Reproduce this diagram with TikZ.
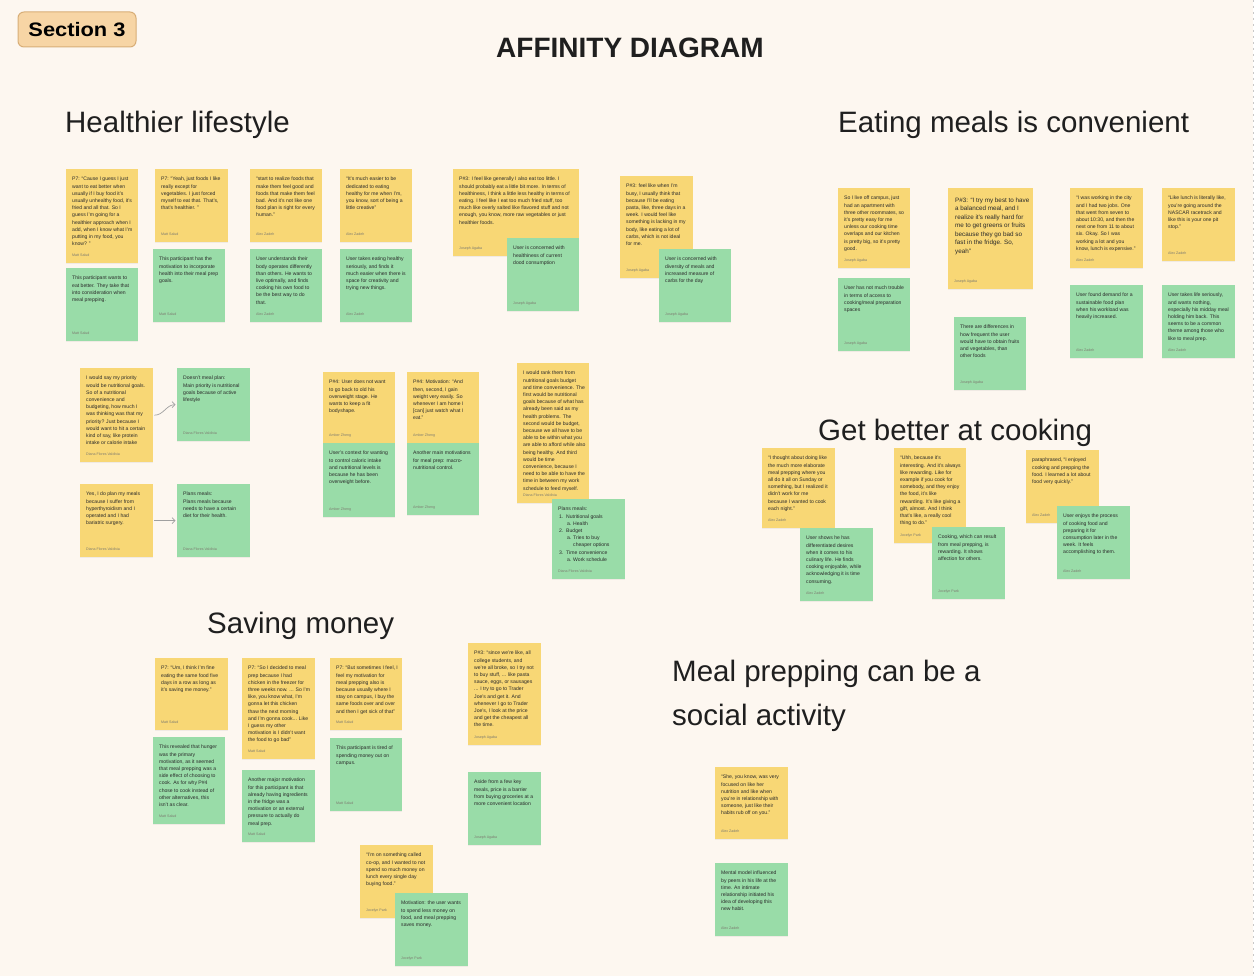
\documentclass[tikz,border=0pt]{standalone}
\usepackage{fontspec}
\setmainfont{Liberation Sans}
\usetikzlibrary{arrows.meta,shadows}
\definecolor{bgcream}{HTML}{FDF7F0}
\definecolor{noteyellow}{HTML}{F8D775}
\definecolor{notegreen}{HTML}{99DCA8}
\definecolor{textdark}{HTML}{2A2A2A}
\definecolor{authorcol}{HTML}{7D7B70}
\definecolor{badgefill}{HTML}{F7D5A5}
\definecolor{badgedraw}{HTML}{D8AE77}
\definecolor{arrowgray}{HTML}{A0A0A0}
\definecolor{edgegray}{HTML}{C8C8C8}
\tikzset{
  notebox/.style={anchor=north west,inner sep=0pt,draw=none,
    drop shadow={opacity=0.10,shadow xshift=0pt,shadow yshift=-1.2pt}},
  notetext/.style={anchor=north west,inner sep=0pt,align=left,text=textdark,
    font=\fontsize{5.1}{7.2}\selectfont},
  noteauthor/.style={anchor=base west,inner sep=0pt,text=authorcol,
    font=\fontsize{3.6}{4}\selectfont},
  heading/.style={anchor=base west,inner sep=0pt,text=black!88,
    font=\fontsize{29.5}{34}\selectfont},
  conn/.style={draw=arrowgray,line width=0.7pt,-{Straight Barb[length=3pt,width=6pt]}}
}
% #1 extra text options, #2 name, #3 colour, #4 x, #5 y, #6 w, #7 h, #8 text, #9 author
\newcommand{\stickynote}[9][]{%
  \node[notebox,fill=#3,minimum width=#6pt,minimum height=#7pt] (#2) at (#4,#5) {};
  \node[notetext,#1] (#2-text) at ([xshift=6pt,yshift=-8pt]#2.north west) {#8};
  \node[noteauthor] (#2-author) at ([xshift=6pt,yshift=7pt]#2.south west) {#9};
}
\begin{document}
\begin{tikzpicture}[x=1pt,y=-1pt]
\useasboundingbox (0,0) rectangle (1256,976);
\fill[white] (0,0) rectangle (1256,976);
\fill[bgcream] (0,0) rectangle (1253,976);
\draw[edgegray,line width=0.6pt,dash pattern=on 2pt off 4pt] (1253.5,0) -- (1253.5,976);

% badge and titles
\node[fill=badgefill,draw=badgedraw,line width=1pt,rounded corners=6pt,
  minimum width=118pt,minimum height=35pt,inner sep=0pt] (badge) at (77,29.5)
  {\scalebox{1.12}[1]{\fontsize{19.5}{22}\selectfont\bfseries Section 3}};
\node[anchor=base,inner sep=0pt,text=black!88] (title) at (630,58)
  {\fontsize{28}{32}\selectfont\bfseries AFFINITY DIAGRAM};
\node[heading] (h-health) at (65,133) {Healthier lifestyle};
\node[heading] (h-conv) at (838,133) {Eating meals is convenient};
\node[heading] (h-cook) at (818,440) {Get better at cooking};
\node[heading] (h-save) at (207,633) {Saving money};
\node[heading] (h-social1) at (672,681) {Meal prepping can be a};
\node[heading] (h-social2) at (672,725) {social activity};

% ---------- Healthier lifestyle ----------
\stickynote{y1}{noteyellow}{66}{169}{72}{94}{P7: “Cause I guess I just\\want to eat better when\\usually if I buy food it’s\\usually unhealthy food, it’s\\fried and all that. So I\\guess I’m going for a\\healthier approach when I\\add, when I know what I’m\\putting in my food, you\\know? ”}{Matt Salud}
\stickynote{g1}{notegreen}{66}{268}{72}{73}{This participant wants to\\eat better. They take that\\into consideration when\\meal prepping.}{Matt Salud}
\stickynote{y2}{noteyellow}{155}{169}{73}{73}{P7: “Yeah, just foods I like\\really except for\\vegetables. I just forced\\myself to eat that. That’s,\\that’s healthier. ”}{Matt Salud}
\stickynote{g2}{notegreen}{153}{249}{72}{73}{This participant has the\\motivation to incorporate\\health into their meal prep\\goals.}{Matt Salud}
\stickynote{y3}{noteyellow}{250}{169}{72}{73}{“start to realize foods that\\make them feel good and\\foods that make them feel\\bad. And it’s not like one\\food plan is right for every\\human.”}{Alex Zadeh}
\stickynote{g3}{notegreen}{250}{249}{72}{73}{User understands their\\body operates differently\\than others. He wants to\\live optimally, and finds\\cooking his own food to\\be the best way to do\\that.}{Alex Zadeh}
\stickynote{y4}{noteyellow}{340}{169}{72}{73}{“It’s much easier to be\\dedicated to eating\\healthy for me when I’m,\\you know, sort of being a\\little creative”}{Alex Zadeh}
\stickynote{g4}{notegreen}{340}{249}{72}{73}{User takes eating healthy\\seriously, and finds it\\much easier when there is\\space for creativity and\\trying new things.}{Alex Zadeh}
\stickynote{y5}{noteyellow}{453}{169}{126}{87}{P\#3: I feel like generally I also eat too little. I\\should probably eat a little bit more. In terms of\\healthiness, I think a little less healthy in terms of\\eating. I feel like I eat too much fried stuff, too\\much like overly salted like flavored stuff and not\\enough, you know, more raw vegetables or just\\healthier foods.}{Joseph Agaba}
\stickynote{g5}{notegreen}{507}{238}{72}{73}{User is concerned with\\healthiness of current\\dood consumption}{Joseph Agaba}
\stickynote{y6}{noteyellow}{620}{176}{73}{102}{P\#3: feel like when I’m\\busy, I usually think that\\because I’ll be eating\\pasta, like, three days in a\\week. I would feel like\\something is lacking in my\\body, like eating a lot of\\carbs, which is not ideal\\for me.}{Joseph Agaba}
\stickynote{g6}{notegreen}{659}{249}{72}{73}{User is concerned with\\diversity of meals and\\increased measure of\\carbs for the day}{Joseph Agaba}

\stickynote{y7}{noteyellow}{80}{368}{73}{94}{I would say my priority\\would be nutritional goals.\\So of a nutritional\\convenience and\\budgeting, how much I\\was thinking was that my\\priority? Just because I\\would want to hit a certain\\kind of say, like protein\\intake or calorie intake}{Diana Flores Valdivia}
\stickynote{g7}{notegreen}{177}{368}{73}{73}{Doesn’t meal plan:\\Main priority is nutritional\\goals because of active\\lifestyle}{Diana Flores Valdivia}
\stickynote{y8}{noteyellow}{80}{484}{73}{73}{Yes, I do plan my meals\\because I suffer from\\hyperthyroidism and I\\operated and I had\\bariatric surgery.}{Diana Flores Valdivia}
\stickynote{g8}{notegreen}{177}{484}{73}{73}{Plans meals:\\Plans meals because\\needs to have a certain\\diet for their health.}{Diana Flores Valdivia}
\draw[conn] ([xshift=1pt]y7.east) to[out=0,in=180] ([xshift=-1.5pt]g7.west);
\draw[conn] ([xshift=1pt]y8.east) -- ([xshift=-1.5pt]g8.west);

\stickynote{y9}{noteyellow}{323}{372}{72}{71}{P\#4: User does not want\\to go back to old his\\overweight stage. He\\wants to keep a fit\\bodyshape.}{Amber Zheng}
\stickynote{g9}{notegreen}{323}{443}{72}{74}{User’s context for wanting\\to control caloric intake\\and nutritional levels is\\because he has been\\overweight before.}{Amber Zheng}
\stickynote{y10}{noteyellow}{407}{372}{72}{71}{P\#4: Motivation: “And\\then, second, I gain\\weight very easily. So\\whenever I am home I\\{[}can{]} just watch what I\\eat.”}{Amber Zheng}
\stickynote{g10}{notegreen}{407}{443}{72}{72}{Another main motivations\\for meal prep: macro-\\nutritional control.}{Amber Zheng}
\stickynote{y11}{noteyellow}{517}{363}{72}{140}{I would rank them from\\nutritional goals budget\\and time convenience. The\\first would be nutritional\\goals because of what has\\already been said as my\\health problems. The\\second would be budget,\\because we all have to be\\able to be within what you\\are able to afford while also\\being healthy.  And third\\would be time\\convenience, because I\\need to be able to have the\\time in between my work\\schedule to feed myself.}{Diana Flores Valdivia}
\stickynote{g11}{notegreen}{552}{499}{73}{80}{Plans meals:\\\hspace*{1pt}\makebox[7pt][l]{1.}Nutritional goals\\\hspace*{9pt}\makebox[6pt][l]{a.}Health\\\hspace*{1pt}\makebox[7pt][l]{2.}Budget\\\hspace*{9pt}\makebox[6pt][l]{a.}Tries to buy\\\hspace*{15pt}cheaper options\\\hspace*{1pt}\makebox[7pt][l]{3.}Time convenience\\\hspace*{9pt}\makebox[6pt][l]{a.}Work schedule}{Diana Flores Valdivia}

% ---------- Eating meals is convenient ----------
\stickynote{y12}{noteyellow}{838}{188}{72}{80}{So I live off campus, just\\had an apartment with\\three other roommates, so\\it’s pretty easy for me\\unless our cooking time\\overlaps and our kitchen\\is pretty big, so it’s pretty\\good.}{Joseph Agaba}
\stickynote{g12}{notegreen}{838}{278}{72}{73}{User has not much trouble\\in terms of access to\\cooking/meal preparation\\spaces}{Joseph Agaba}
\stickynote[font=\fontsize{6.3}{8.5}\selectfont,xshift=1pt,yshift=-1.5pt]{y13}{noteyellow}{948}{188}{85}{101}{P\#3: “I try my best to have\\a balanced meal, and I\\realize it’s really hard for\\me to get greens or fruits\\because they go bad so\\fast in the fridge. So,\\yeah”}{Joseph Agaba}
\stickynote{g13}{notegreen}{954}{317}{72}{73}{There are differences in\\how frequent the user\\would have to obtain fruits\\and vegetables, than\\other foods}{Joseph Agaba}
\stickynote{y14}{noteyellow}{1070}{188}{73}{80}{“I was working in the city\\and I had two jobs. One\\that went from seven to\\about 10:30, and then the\\next one from 11 to about\\six. Okay. So I was\\working a lot and you\\know, lunch is expensive.”}{Alex Zadeh}
\stickynote{g14}{notegreen}{1070}{285}{73}{73}{User found demand for a\\sustainable food plan\\when his workload was\\heavily increased.}{Alex Zadeh}
\stickynote{y15}{noteyellow}{1162}{188}{73}{73}{“Like lunch is literally like,\\you’re going around the\\NASCAR racetrack and\\like this is your one pit\\stop.”}{Alex Zadeh}
\stickynote{g15}{notegreen}{1162}{285}{73}{73}{User takes life seriously,\\and wants nothing,\\especially his midday meal\\holding him back. This\\seems to be a common\\theme among those who\\like to meal prep.}{Alex Zadeh}

% ---------- Get better at cooking ----------
\stickynote{y16}{noteyellow}{762}{448}{73}{80}{“I thought about doing like\\the much more elaborate\\meal prepping where you\\all do it all on Sunday or\\something, but I realized it\\didn’t work for me\\because I wanted to cook\\each night.”}{Alex Zadeh}
\stickynote{g16}{notegreen}{800}{528}{73}{73}{User shows he has\\differentiated desires\\when it comes to his\\culinary life. He finds\\cooking enjoyable, while\\acknowledging it is time\\consuming.}{Alex Zadeh}
\stickynote{y17}{noteyellow}{894}{448}{72}{95}{“Uhh, because it’s\\interesting. And it’s always\\like rewarding. Like for\\example if you cook for\\somebody, and they enjoy\\the food, it’s like\\rewarding. It’s like giving a\\gift, almost. And I think\\that’s like, a really cool\\thing to do.”}{Jocelyn Park}
\stickynote{g17}{notegreen}{932}{527}{73}{72}{Cooking, which can result\\from meal prepping, is\\rewarding. It shows\\affection for others.}{Jocelyn Park}
\stickynote{y18}{noteyellow}{1026}{450}{73}{73}{paraphrased, “I enjoyed\\cooking and prepping the\\food. I learned a lot about\\food very quickly.”}{Alex Zadeh}
\stickynote{g18}{notegreen}{1057}{506}{73}{73}{User enjoys the process\\of cooking food and\\preparing it for\\consumption later in the\\week. It feels\\accomplishing to them.}{Alex Zadeh}

% ---------- Saving money ----------
\stickynote{y19}{noteyellow}{155}{658}{73}{72}{P7: “Um, I think I’m fine\\eating the same food five\\days in a row as long as\\it’s saving me money.”}{Matt Salud}
\stickynote{g19}{notegreen}{153}{737}{72}{87}{This revealed that hunger\\was the primary\\motivation, as it seemed\\that meal prepping was a\\side effect of choosing to\\cook. As for why P\#4\\chose to cook instead of\\other alternatives, this\\isn’t as clear.}{Matt Salud}
\stickynote{y20}{noteyellow}{242}{658}{73}{101}{P7: “So I decided to meal\\prep because I had\\chicken in the freezer for\\three weeks now. ... So I’m\\like, you know what, I’m\\gonna let this chicken\\thaw the next morning\\and I’m gonna cook... Like\\I guess my other\\motivation is I didn’t want\\the food to go bad”}{Matt Salud}
\stickynote{g20}{notegreen}{242}{770}{73}{72}{Another major motivation\\for this participant is that\\already having ingredients\\in the fridge was a\\motivation or an external\\pressure to actually do\\meal prep.}{Matt Salud}
\stickynote{y21}{noteyellow}{330}{658}{72}{72}{P7: “But sometimes I feel, I\\feel my motivation for\\meal prepping also is\\because usually where I\\stay on campus, I buy the\\same foods over and over\\and then I get sick of that”}{Matt Salud}
\stickynote{g21}{notegreen}{330}{738}{72}{73}{This participant is tired of\\spending money out on\\campus.}{Matt Salud}
\stickynote{y22}{noteyellow}{468}{643}{73}{102}{P\#3: “since we’re like, all\\college students, and\\we’re all broke, so I try not\\to buy stuff, ... like pasta\\sauce, eggs, or sausages\\... I try to go to Trader\\Joe’s and get it. And\\whenever I go to Trader\\Joe’s, I look at the price\\and get the cheapest all\\the time.}{Joseph Agaba}
\stickynote{g22}{notegreen}{468}{772}{73}{73}{Aside from a few key\\meals, price is a barrier\\from buying groceries at a\\more convenient location}{Joseph Agaba}
\stickynote{y23}{noteyellow}{360}{845}{73}{73}{“I’m on something called\\co-op, and I wanted to not\\spend so much money on\\lunch every single day\\buying food.”}{Jocelyn Park}
\stickynote{g23}{notegreen}{395}{893}{73}{73}{Motivation: the user wants\\to spend less money on\\food, and meal prepping\\saves money.}{Jocelyn Park}

% ---------- Social activity ----------
\stickynote{y24}{noteyellow}{715}{767}{73}{72}{“She, you know, was very\\focused on like her\\nutrition and like when\\you’re in relationship with\\someone, just like their\\habits rub off on you.”}{Alex Zadeh}
\stickynote{g24}{notegreen}{715}{863}{73}{73}{Mental model influenced\\by peers in his life at the\\time. An intimate\\relationship initiated his\\idea of developing this\\new habit.}{Alex Zadeh}
\end{tikzpicture}
\end{document}
